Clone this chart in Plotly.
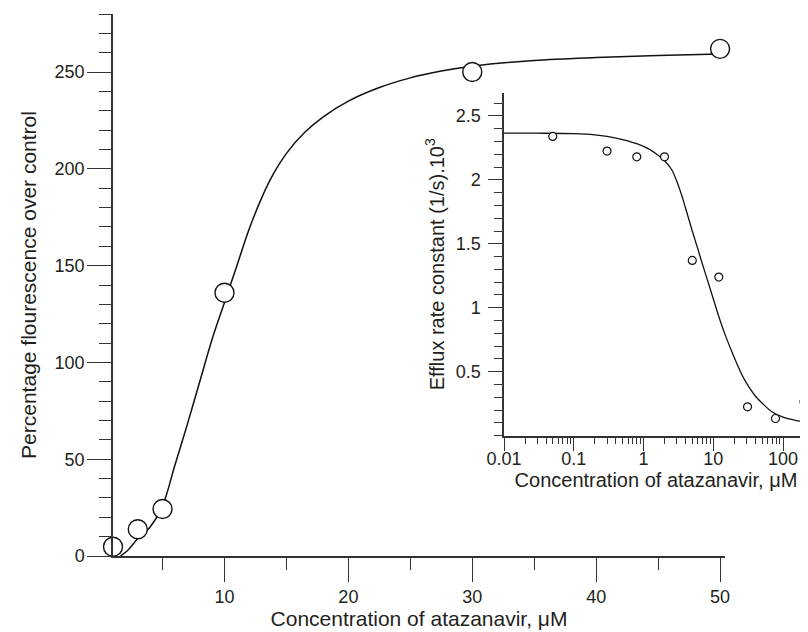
import plotly.graph_objects as go

# ---------------- data ----------------
main_conc = [1, 3, 5, 10, 30, 50]
main_pct = [4.8, 13.8, 24.3, 136, 250, 262]

fit_conc = [1.6, 2.2, 3.0, 4.0, 5.0, 6.0, 7.0, 8.0, 9.0, 10.0, 11.0, 12.0, 13.0, 14.0,
            15.0, 16.5, 18.0, 20.0, 22.5, 25.0, 27.5, 30.0, 35.0, 40.0, 45.0, 50.0]
fit_pct = [0, 3, 9, 15, 26, 47, 68, 90, 112, 131, 150, 169, 185, 198,
           208, 219, 227, 235, 242, 247, 250.5, 253, 256, 257.5, 258.5, 259.3]

inset_conc = [0.05, 0.3, 0.8, 2, 5, 12, 31, 78, 200]
inset_k = [2.34, 2.225, 2.18, 2.18, 1.37, 1.24, 0.225, 0.134, 0.264]

inset_fit_conc = [0.01, 0.03, 0.1, 0.2, 0.3, 0.5, 0.8, 1.2, 1.6, 2.0, 2.5, 3.0, 3.5, 4.0,
                  5.0, 6.0, 7.0, 8.5, 10, 12.5, 15, 20, 25, 30, 40, 50, 70, 100, 150, 220]
inset_fit_k = [2.366, 2.365, 2.361, 2.352, 2.340, 2.315, 2.283, 2.240, 2.195, 2.150, 2.085,
               1.990, 1.885, 1.780, 1.600, 1.460, 1.340, 1.194, 1.070, 0.902, 0.780, 0.610,
               0.490, 0.410, 0.310, 0.255, 0.185, 0.145, 0.120, 0.105]

main_yticks = [0, 50, 100, 150, 200, 250]
main_xticks = [10, 20, 30, 40, 50]
inset_yticks = [0.5, 1, 1.5, 2, 2.5]
inset_ytick_labels = ["0.5", "1", "1.5", "2", "2.5"]
inset_xticks = [0.01, 0.1, 1, 10, 100]
inset_xtick_labels = ["0.01", "0.1", "1", "10", "100"]

main_xtitle = "Concentration of atazanavir, \u03bcM"
main_ytitle = "Percentage flourescence over control"
inset_xtitle = "Concentration of atazanavir, \u03bcM"
inset_ytitle = "Efflux rate constant (1/s).10<sup>3</sup>"

# ---------------- styling ----------------
FONT = "Liberation Sans, Arial, Helvetica, sans-serif"
TXT = "#231f20"
AX = "#333333"

fig = go.Figure()

fig.add_trace(go.Scatter(x=fit_conc, y=fit_pct, mode="lines", line=dict(color="#111", width=1.5, shape="spline", smoothing=1.0),
                         xaxis="x", yaxis="y", cliponaxis=False, hoverinfo="skip"))
fig.add_trace(go.Scatter(x=main_conc, y=main_pct, mode="markers",
                         marker=dict(symbol="circle", size=19, color="white", line=dict(color="#111", width=1.4)),
                         xaxis="x", yaxis="y", cliponaxis=False))
fig.add_trace(go.Scatter(x=inset_fit_conc, y=inset_fit_k, mode="lines", line=dict(color="#111", width=1.3, shape="spline"),
                         xaxis="x2", yaxis="y2", cliponaxis=False, hoverinfo="skip"))
fig.add_trace(go.Scatter(x=inset_conc, y=inset_k, mode="markers",
                         marker=dict(symbol="circle", size=8, color="white", line=dict(color="#111", width=1.2)),
                         xaxis="x2", yaxis="y2", cliponaxis=False))

tickfont = dict(family=FONT, size=18, color=TXT)
titlefont = dict(family=FONT, size=21, color=TXT)
inset_titlefont = dict(family=FONT, size=20, color=TXT)

# page body has an 8 px margin, so the figure is 8 px smaller in each direction
fig.update_layout(
    width=800, height=624,
    margin=dict(l=105, r=0, t=6, b=76, autoexpand=False),
    paper_bgcolor="white", plot_bgcolor="rgba(0,0,0,0)",
    showlegend=False,
    font=dict(family=FONT, color=TXT),
    xaxis=dict(domain=[0, 0.8806], range=[1, 50.4], anchor="y", automargin=False,
               showline=True, linecolor=AX, linewidth=1.5, showgrid=False, zeroline=False,
               tickmode="array", tickvals=main_xticks, ticks="outside", ticklen=24, tickwidth=1.3, tickcolor=AX,
               minor=dict(ticks="outside", ticklen=12, tickwidth=1.3, tickcolor=AX, dtick=5, tick0=0, showgrid=False),
               tickfont=tickfont, ticklabelstandoff=0,
               title=dict(text=main_xtitle, font=titlefont, standoff=2)),
    yaxis=dict(domain=[0, 1], range=[0, 280], anchor="x", automargin=False,
               showline=True, linecolor=AX, linewidth=1.5, showgrid=False, zeroline=False,
               tickmode="array", tickvals=main_yticks, ticks="outside", ticklen=24, tickwidth=1.3, tickcolor=AX,
               minor=dict(ticks="outside", ticklen=12, tickwidth=1.3, tickcolor=AX, dtick=10, tick0=0, showgrid=False),
               tickfont=tickfont, ticklabelstandoff=-1,
               title=dict(text=main_ytitle, font=titlefont, standoff=12)),
    xaxis2=dict(domain=[0.5626, 1], type="log", range=[-2, 2.358], anchor="y2", automargin=False,
                showline=True, linecolor=AX, linewidth=1.5, showgrid=False, zeroline=False,
                tickmode="array", tickvals=inset_xticks, ticktext=inset_xtick_labels,
                ticks="outside", ticklen=14, tickwidth=1.2, tickcolor=AX,
                minor=dict(ticks="outside", ticklen=7, tickwidth=1.2, tickcolor=AX, dtick="D1", showgrid=False),
                tickfont=tickfont, ticklabelstandoff=-8,
                title=dict(text=inset_xtitle, font=inset_titlefont, standoff=2)),
    yaxis2=dict(domain=[0.2221, 0.8544], range=[0, 2.68], anchor="x2", automargin=False,
                showline=True, linecolor=AX, linewidth=1.5, showgrid=False, zeroline=False,
                tickmode="array", tickvals=inset_yticks, ticktext=inset_ytick_labels,
                ticks="outside", ticklen=14, tickwidth=1.2, tickcolor=AX,
                minor=dict(ticks="outside", ticklen=8, tickwidth=1.2, tickcolor=AX, dtick=0.1, tick0=0, showgrid=False),
                tickfont=tickfont, ticklabelstandoff=4,
                title=dict(text=inset_ytitle, font=inset_titlefont, standoff=6)),
)

fig.write_html("out.html")
